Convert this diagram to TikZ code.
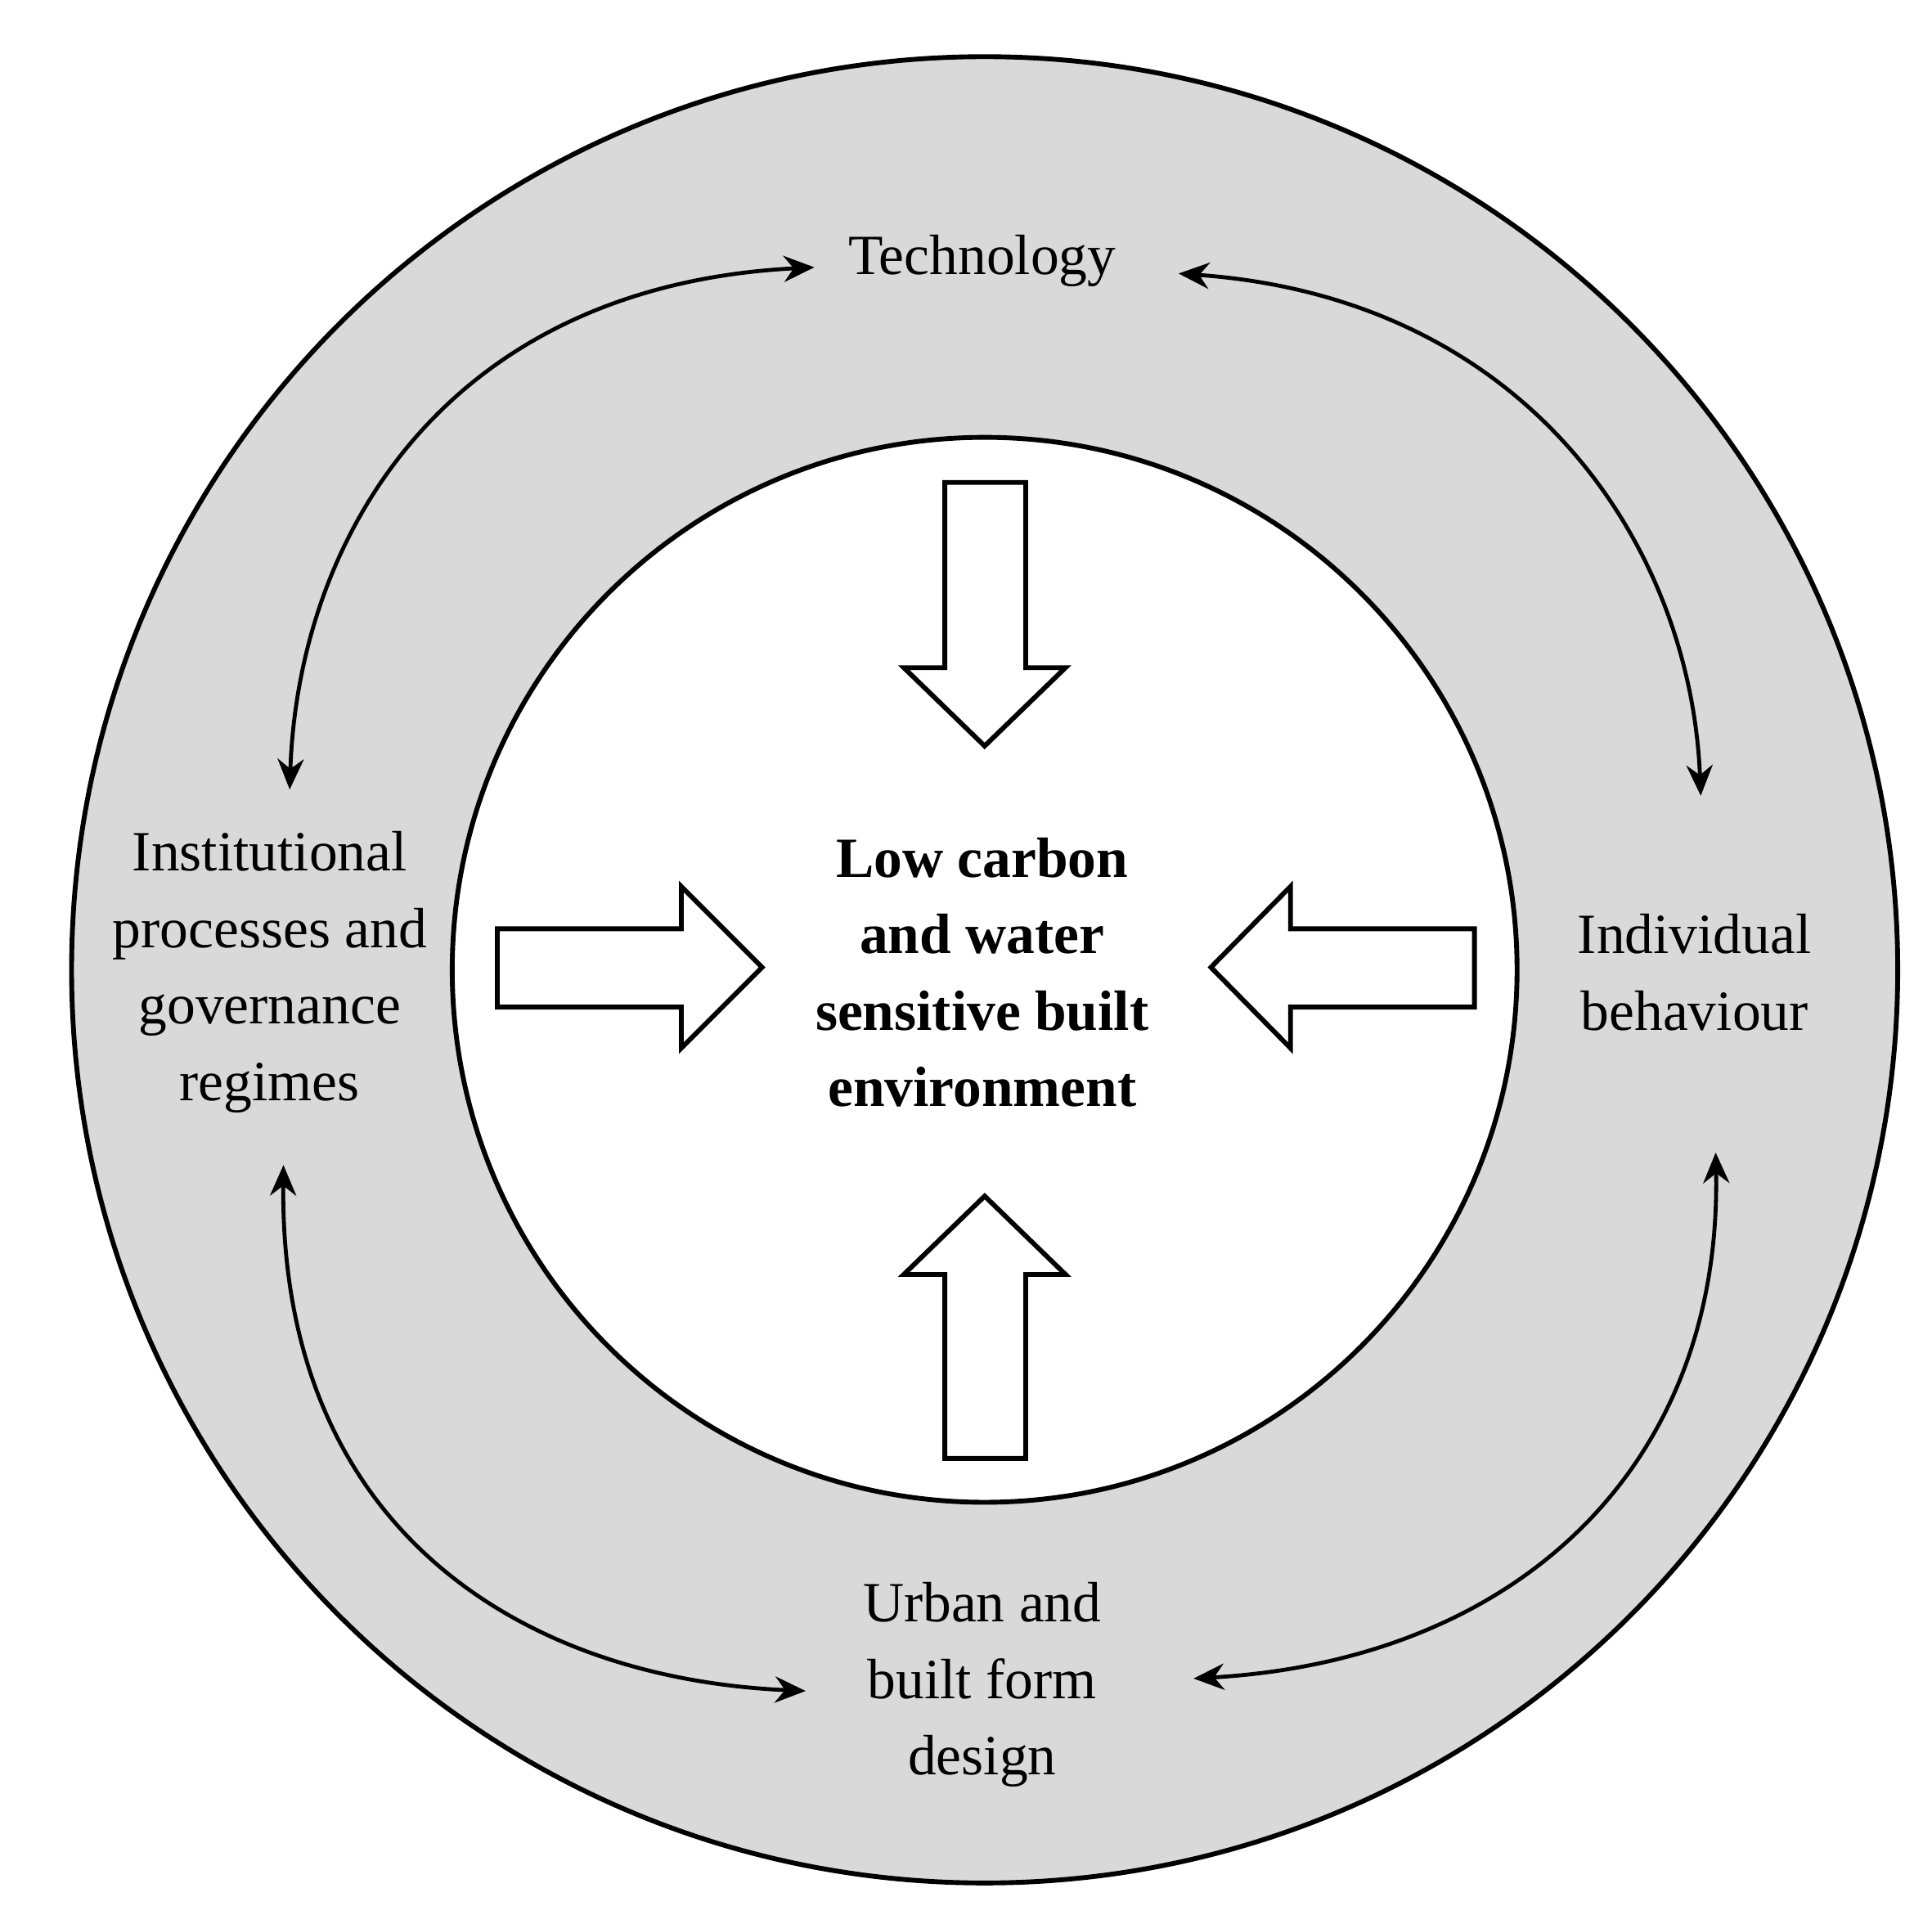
\documentclass[tikz,border=0pt]{standalone}
\usepackage{fontspec}
\setmainfont{Liberation Serif}
\usetikzlibrary{arrows.meta}
\begin{document}
\begin{tikzpicture}[x=0.01cm,y=-0.01cm,
  lbl/.style={align=center,font=\fontsize{13}{17.5}\selectfont},
  blk/.style={draw,line width=1.1pt,fill=white},
  dbl/.style={line width=0.9pt,{Stealth[length=7pt,width=6pt]}-{Stealth[length=7pt,width=6pt]}}]
\useasboundingbox (0,0) rectangle (1554,1540);
\node[circle,draw,line width=1.1pt,fill=black!15,minimum size=14.68cm,inner sep=0pt] (outer) at (792,780) {};
\node[circle,draw,line width=1.1pt,fill=white,minimum size=8.56cm,inner sep=0pt] (inner) at (792,780) {};
\draw[blk] (760,388) -- (825,388) -- (825,537) -- (857,537) -- (792,600) -- (727,537) -- (760,537) -- cycle;
\draw[blk] (760,1173) -- (825,1173) -- (825,1025) -- (857,1025) -- (792,962) -- (727,1025) -- (760,1025) -- cycle;
\draw[blk] (400,747) -- (548,747) -- (548,713) -- (613,778) -- (548,843) -- (548,810) -- (400,810) -- cycle;
\draw[blk] (1186,747) -- (1038,747) -- (1038,713) -- (974,778) -- (1038,843) -- (1038,810) -- (1186,810) -- cycle;
\node[lbl] (tech) at (790,210) {Technology};
\node[lbl] (inst) at (217,782) {Institutional\\processes and\\governance\\regimes};
\node[lbl] (indiv) at (1363,782) {Individual\\behaviour};
\node[lbl] (urban) at (790,1355) {Urban and\\built form\\design};
\node[lbl,font=\fontsize{13}{17.5}\selectfont\bfseries] (core) at (790,782) {Low carbon\\and water\\sensitive built\\environment};
\coordinate (a1) at (655,215); \coordinate (a2) at (233,635);
\coordinate (b1) at (948,220); \coordinate (b2) at (1368,640);
\coordinate (c1) at (228,937); \coordinate (c2) at (648,1360);
\coordinate (d1) at (1380,927); \coordinate (d2) at (960,1350);
\draw[dbl] (a1) .. controls (360,230) and (240,430) .. (a2);
\draw[dbl] (b1) .. controls (1230,240) and (1360,440) .. (b2);
\draw[dbl] (c1) .. controls (225,1230) and (420,1350) .. (c2);
\draw[dbl] (d1) .. controls (1385,1180) and (1220,1335) .. (d2);
\end{tikzpicture}
\end{document}
